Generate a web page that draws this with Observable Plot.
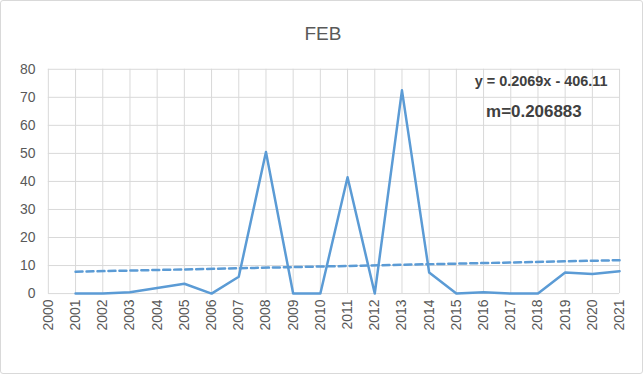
<!DOCTYPE html>
<html><head><meta charset="utf-8">
<script src="https://cdn.jsdelivr.net/npm/d3@7"></script>
<script src="https://cdn.jsdelivr.net/npm/@observablehq/plot@0.6"></script>
<style>
body{margin:0;background:#fff;}
#wrap{position:absolute;left:0;top:0;width:641px;height:372px;border:1px solid #d9d9d9;border-radius:3px;overflow:hidden;}
#title{position:absolute;left:0;top:22px;width:644px;text-align:center;font:19px "Liberation Sans",Arial,sans-serif;color:#595959;}
#chart{position:absolute;left:-1px;top:-1px;}
</style></head><body>
<div id="wrap"><div id="title">FEB</div><div id="chart"></div></div>
<script>
const years = [2001,2002,2003,2004,2005,2006,2007,2008,2009,2010,2011,2012,2013,2014,2015,2016,2017,2018,2019,2020,2021];
const values = [0,0,0.5,2,3.5,0,6,50.5,0,0,41.5,0,72.5,7.5,0,0.5,0,0,7.5,7,8];
const xTicks = d3.range(2000,2022);
const yTicks = [0,10,20,30,40,50,60,70,80];
const notes = ["y = 0.2069x - 406.11","m=0.206883"];

const data = years.map((y,i)=>({year:y, value:values[i]}));
const font = '"Liberation Sans",Arial,sans-serif';
const chart = Plot.plot({
  width:644, height:375,
  marginTop:69, marginBottom:81, marginLeft:48, marginRight:23,
  style:{fontFamily:font, fontSize:"14px", color:"#595959", background:"transparent"},
  x:{domain:[2000,2021], ticks:xTicks, tickFormat:d=>String(d)},
  y:{domain:[0,80], ticks:yTicks},
  marks:[
    Plot.gridX(xTicks,{stroke:"#d9d9d9", strokeOpacity:1}),
    Plot.gridY(yTicks,{stroke:"#d9d9d9", strokeOpacity:1}),
    Plot.axisX({ticks:xTicks, tickRotate:-90, tickSize:0, tickPadding:6, tickFormat:d=>String(d), label:null, fontSize:14}),
    Plot.axisY({ticks:yTicks, tickSize:0, tickPadding:13, label:null, fontSize:14}),
    Plot.linearRegressionY(data,{x:"year", y:"value", ci:0, stroke:"#5B9BD5", strokeWidth:2.5, strokeDasharray:"7,4"}),
    Plot.line(data,{x:"year", y:"value", stroke:"#5B9BD5", strokeWidth:2.5}),
    Plot.text([notes[0]],{frameAnchor:"top-right", dx:-12, dy:6, text:d=>d, fontSize:14.5, fontWeight:"bold", fill:"#404040", textAnchor:"end"}),
    Plot.text([notes[1]],{frameAnchor:"top-right", dx:-38, dy:36, text:d=>d, fontSize:17, fontWeight:"bold", fill:"#404040", textAnchor:"end"})
  ]
});
document.getElementById("chart").appendChild(chart);
</script>
</body></html>
